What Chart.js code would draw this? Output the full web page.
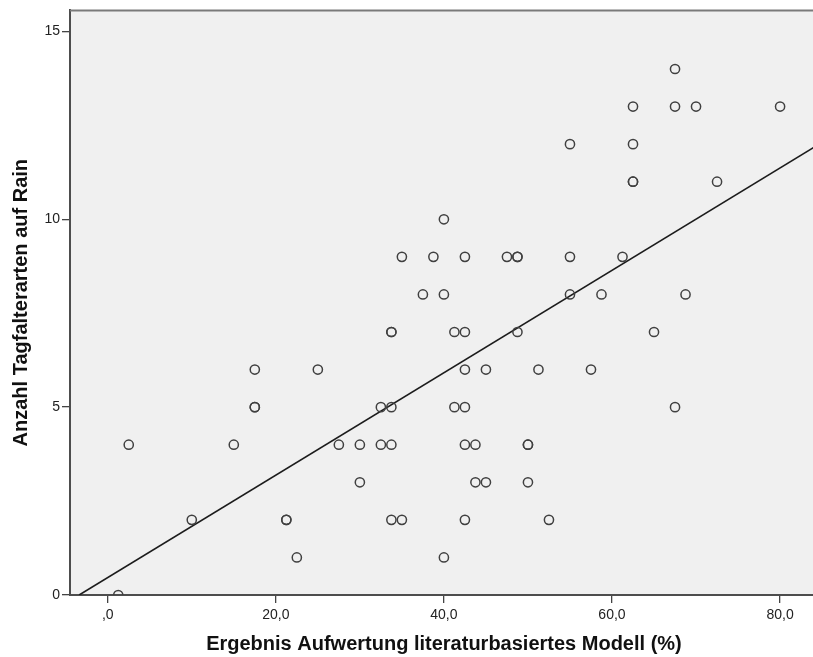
<!DOCTYPE html>
<html>
<head>
<meta charset="utf-8">
<script src="https://cdn.jsdelivr.net/npm/chart.js@4.4.1/dist/chart.umd.min.js"></script>
<style>
  html, body { margin: 0; padding: 0; background: #fff; overflow: hidden; }
  #wrap { width: 813px; height: 657px; overflow: hidden; }
</style>
</head>
<body>
<div id="wrap"><canvas id="scatterChart" width="824" height="657"></canvas></div>
<script>
// Ergebnis Aufwertung (x, %) und Anzahl Tagfalterarten (y), je Punkt ein Paar
const ergebnisWerte = [
  67.5,
  62.5, 67.5, 70, 80,
  55, 62.5,
  62.5, 62.5, 72.5,
  40,
  35, 38.75, 42.5, 47.5, 48.75, 48.75, 55, 61.25,
  37.5, 40, 55, 58.75, 68.75,
  33.75, 33.75, 41.25, 42.5, 48.75, 65,
  17.5, 25, 42.5, 45, 51.25, 57.5,
  17.5, 17.5, 32.5, 33.75, 41.25, 42.5, 67.5,
  2.5, 15, 27.5, 30, 32.5, 33.75, 42.5, 43.75, 50, 50,
  30, 43.75, 45, 50,
  10, 21.25, 21.25, 33.75, 35, 42.5, 52.5,
  22.5, 40,
  1.25
];
const anzahlArten = [
  14,
  13, 13, 13, 13,
  12, 12,
  11, 11, 11,
  10,
  9, 9, 9, 9, 9, 9, 9, 9,
  8, 8, 8, 8, 8,
  7, 7, 7, 7, 7, 7,
  6, 6, 6, 6, 6, 6,
  5, 5, 5, 5, 5, 5, 5,
  4, 4, 4, 4, 4, 4, 4, 4, 4, 4,
  3, 3, 3, 3,
  2, 2, 2, 2, 2, 2, 2,
  1, 1,
  0
];

// Regressionsgerade, Endpunkte
const fitLineX = [-3.4, 84.5];
const fitLineY = [0, 11.98];

const xTickValues = [0, 20, 40, 60, 80];
const xTickLabels = [",0", "20,0", "40,0", "60,0", "80,0"];
const yTickValues = [0, 5, 10, 15];
const yTickLabels = ["0", "5", "10", "15"];

const fontFamily = "Arial, 'Liberation Sans', sans-serif";

const plotBackground = {
  id: "plotBackground",
  beforeDraw(chart) {
    const { ctx, chartArea } = chart;
    ctx.save();
    ctx.fillStyle = "#f0f0f0";
    ctx.fillRect(chartArea.left, chartArea.top, chartArea.right - chartArea.left, chartArea.bottom - chartArea.top);
    ctx.restore();
  },
  afterDraw(chart) {
    const { ctx, chartArea } = chart;
    ctx.save();
    ctx.strokeStyle = "#7a7a7a";
    ctx.lineWidth = 2;
    ctx.beginPath();
    ctx.moveTo(chartArea.left, chartArea.top);
    ctx.lineTo(chartArea.right, chartArea.top);
    ctx.stroke();
    ctx.restore();
  }
};

const ctx = document.getElementById("scatterChart").getContext("2d");

new Chart(ctx, {
  type: "scatter",
  data: {
    datasets: [
      {
        label: "Anzahl Tagfalterarten",
        data: ergebnisWerte.map((x, i) => ({ x: x, y: anzahlArten[i] })),
        pointRadius: 4.6,
        pointBorderWidth: 1.5,
        borderColor: "#404040",
        backgroundColor: "rgba(0,0,0,0)",
        clip: 0
      },
      {
        type: "line",
        label: "Anpassungslinie",
        data: fitLineX.map((x, i) => ({ x: x, y: fitLineY[i] })),
        borderColor: "#1c1c1c",
        borderWidth: 1.6,
        pointRadius: 0,
        fill: false,
        clip: 0
      }
    ]
  },
  options: {
    responsive: false,
    animation: false,
    events: [],
    layout: { padding: { top: 9, left: 0, right: 0, bottom: 0 } },
    plugins: {
      legend: { display: false },
      tooltip: { enabled: false }
    },
    scales: {
      x: {
        type: "linear",
        min: -4.49,
        max: 84.5,
        afterFit: (scale) => { scale.height = 62; },
        afterBuildTicks: (scale) => { scale.ticks = xTickValues.map(v => ({ value: v })); },
        ticks: {
          callback: (value, i) => xTickLabels[i],
          font: { family: fontFamily, size: 14 },
          color: "#222",
          padding: 4,
          maxRotation: 0
        },
        grid: { drawOnChartArea: false, tickLength: 8, color: "#444", lineWidth: 1.3 },
        border: { color: "#4d4d4d", width: 2 },
        title: {
          display: true,
          text: "Ergebnis Aufwertung literaturbasiertes Modell (%)",
          font: { family: fontFamily, size: 20, weight: "bold" },
          color: "#111",
          padding: { top: 0, bottom: 1 }
        }
      },
      y: {
        type: "linear",
        min: 0,
        max: 15.56,
        afterFit: (scale) => { scale.width = 70; },
        afterBuildTicks: (scale) => { scale.ticks = yTickValues.map(v => ({ value: v })); },
        ticks: {
          callback: (value, i) => yTickLabels[i],
          font: { family: fontFamily, size: 14 },
          color: "#222",
          padding: 2
        },
        grid: { drawOnChartArea: false, tickLength: 8, color: "#444", lineWidth: 1.3 },
        border: { color: "#4d4d4d", width: 2 },
        title: {
          display: true,
          text: "Anzahl Tagfalterarten auf Rain",
          font: { family: fontFamily, size: 20, weight: "bold" },
          color: "#111",
          padding: { top: 9, bottom: 0 }
        }
      }
    }
  },
  plugins: [plotBackground]
});
</script>
</body>
</html>
